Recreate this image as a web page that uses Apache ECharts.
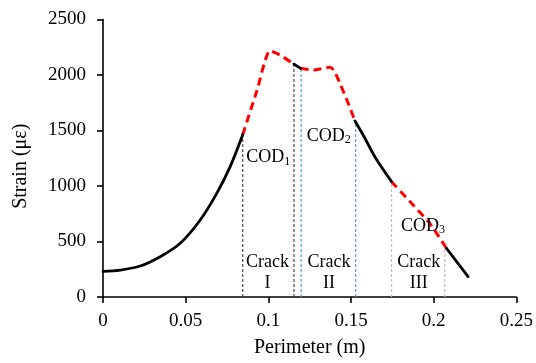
<!DOCTYPE html>
<html>
<head>
<meta charset="utf-8">
<script src="https://cdn.jsdelivr.net/npm/echarts@6/dist/echarts.min.js"></script>
<style>
  html, body { margin: 0; padding: 0; background: #fff; }
  #chart { width: 536px; height: 363px; }
</style>
</head>
<body>
<div id="chart"></div>
<script>
// Strain profile along the perimeter: measured (solid) and crack-opening (dashed) parts
const measuredA = [[0, 230], [0.0104, 243], [0.0225, 279], [0.0346, 363], [0.0467, 484], [0.0588, 694], [0.0688, 934], [0.0769, 1174], [0.0845, 1462]];
const codPeak   = [[0.0845, 1462], [0.093, 1855], [0.101, 2219], [0.107, 2180], [0.1155, 2098]];
const measuredB = [[0.1155, 2098], [0.1195, 2060]];
const codPlateau = [[0.1195, 2060], [0.1272, 2045], [0.1372, 2069], [0.1395, 2045], [0.1433, 1925], [0.1483, 1745], [0.1524, 1585]];
const measuredC = [[0.1524, 1585], [0.1584, 1430], [0.1644, 1264], [0.1745, 1039]];
const codTail   = [[0.1745, 1039], [0.1866, 844], [0.1976, 664], [0.2077, 439]];
const measuredD = [[0.2077, 439], [0.2208, 183]];

// Crack boundaries: position (m), strain at the curve, group
const boundaryX     = [0.0845, 0.1155, 0.1198, 0.1528, 0.1745, 0.2067];
const boundaryTop   = [1462, 2098, 2060, 1585, 1039, 450];
const boundaryGroup = ['dark', 'dark', 'blue', 'blue', 'light', 'light'];

// Axis tick labels
const xTickLabels = ['0', '0.05', '0.1', '0.15', '0.2', '0.25'];
const yTickLabels = ['0', '500', '1000', '1500', '2000', '2500'];

// Annotations
const codLabels   = [['COD', '1'], ['COD', '2'], ['COD', '3']];
const codPos      = [[0.1000, 1257], [0.1365, 1450], [0.1936, 640]];
const crackLabels = ['I', 'II', 'III'];
const crackPos    = [[0.0995, 222], [0.1367, 222], [0.1910, 222]];

const FONT = '"Liberation Serif", "Times New Roman", serif';
const INK = '#000';
const groupColor = { dark: '#4a4a4a', blue: '#5b9bd5', light: '#bdbdbd' };

const solid = (data) => ({
  type: 'line', data, showSymbol: false, smooth: 0.3, z: 5,
  lineStyle: { color: '#000', width: 2.8, type: 'solid', cap: 'round' }
});
const dashed = (data) => ({
  type: 'line', data, showSymbol: false, smooth: 0.2, z: 4,
  lineStyle: { color: '#ff0000', width: 3, type: [8, 5] }
});

const series = [
  solid(measuredA), dashed(codPeak), solid(measuredB), dashed(codPlateau),
  solid(measuredC), dashed(codTail), solid(measuredD)
];

boundaryX.forEach((x, i) => {
  series.push({
    type: 'line', data: [[x, 0], [x, boundaryTop[i]]], showSymbol: false, z: 2,
    lineStyle: { color: groupColor[boundaryGroup[i]], width: 1.2, type: [3, 2] }
  });
});

series.push({
  type: 'scatter', symbolSize: 0, z: 6, itemStyle: { color: INK, opacity: 1 },
  data: codPos.map((p, i) => ({ value: p, name: i })),
  label: {
    show: true, position: 'inside', color: INK, opacity: 1, textBorderWidth: 0,
    formatter: (p) => '{m|' + codLabels[p.data.name][0] + '}{s|' + codLabels[p.data.name][1] + '}',
    rich: {
      m: { fontFamily: FONT, fontSize: 18, color: INK },
      s: { fontFamily: FONT, fontSize: 12, color: INK, verticalAlign: 'bottom', padding: [8, 0, 0, 0] }
    }
  }
});

series.push({
  type: 'scatter', symbolSize: 0, z: 6, itemStyle: { color: INK, opacity: 1 },
  data: crackPos.map((p, i) => ({ value: p, name: i })),
  label: {
    show: true, position: 'inside', color: INK, opacity: 1, textBorderWidth: 0,
    fontFamily: FONT, fontSize: 18, lineHeight: 21, align: 'center',
    formatter: (p) => 'Crack\n' + crackLabels[p.data.name]
  }
});

const chart = echarts.init(document.getElementById('chart'), null, { renderer: 'canvas' });
chart.setOption({
  backgroundColor: '#fff',
  animation: false,
  grid: { left: 103, right: 19, top: 19.5, bottom: 66, containLabel: false },
  xAxis: {
    type: 'value', min: 0, max: 0.25, interval: 0.05,
    name: 'Perimeter (m)', nameLocation: 'middle', nameGap: 41,
    nameTextStyle: { fontFamily: FONT, fontSize: 20, color: INK },
    axisLine: { lineStyle: { color: '#000', width: 1.6 } },
    axisTick: { inside: false, length: 6, lineStyle: { color: '#000', width: 1.6 } },
    axisLabel: {
      margin: 15, fontFamily: FONT, fontSize: 19, color: INK,
      formatter: (v) => xTickLabels[Math.round(v / 0.05)]
    },
    splitLine: { show: false }
  },
  yAxis: {
    type: 'value', min: 0, max: 2500, interval: 500,
    name: 'Strain (με)', nameLocation: 'middle', nameGap: 72,
    nameTextStyle: { fontFamily: FONT, fontSize: 20, color: INK, padding: [0, 16, 0, 0] },
    axisLine: { show: true, lineStyle: { color: '#000', width: 1.6 } },
    axisTick: { show: true, inside: false, length: 6, lineStyle: { color: '#000', width: 1.6 } },
    axisLabel: {
      margin: 17, fontFamily: FONT, fontSize: 19, color: INK,
      formatter: (v) => yTickLabels[Math.round(v / 500)]
    },
    splitLine: { show: false }
  },
  series
});
</script>
</body>
</html>
